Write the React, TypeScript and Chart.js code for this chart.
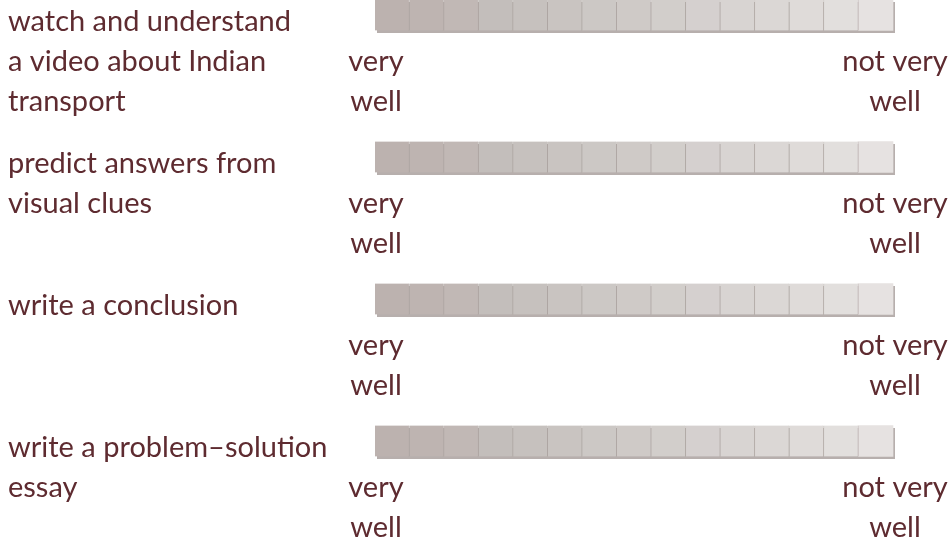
import React, { useEffect, useRef } from "react";
import { Chart, registerables } from "chart.js";

Chart.register(...registerables);

const skills: string[][] = [
  ["watch and understand", "a video about Indian", "transport"],
  ["predict answers from", "visual clues"],
  ["write a conclusion"],
  ["write a problem–solution", "essay"],
];
const categories = skills.map((s) => s.join(" "));
const levels = [1, 1, 1, 1, 1, 1, 1, 1, 1, 1, 1, 1, 1, 1, 1];
const leftEnd = ["very", "well"];
const rightEnd = ["not very", "well"];

const palette = [
  "#bcb2af", "#beb4b1", "#c1b8b5", "#c3bebb", "#c6c1be",
  "#c9c4c1", "#ccc8c5", "#cfcac7", "#d2cecb", "#d5d0cf",
  "#d8d4d2", "#dbd7d5", "#dfdbd9", "#e2dfdd", "#e6e2e1",
];
const TEXT = "#5e2b30";
const FONT = "29px Lato";

const textPlugin = {
  id: "scaleText",
  beforeDatasetsDraw(chart: any) {
    const { ctx, scales } = chart;
    const xs = scales.x;
    const ys = scales.y;
    const x0 = xs.getPixelForValue(0);
    const x1 = xs.getPixelForValue(levels.length);
    ctx.save();
    ctx.fillStyle = "#b7afad";
    categories.forEach((_, i) => {
      const yc = ys.getPixelForValue(i);
      ctx.fillRect(x0 + 2, yc - 15 + 2, x1 - x0, 31);
    });
    ctx.restore();
  },
  afterDraw(chart: any) {
    const { ctx, scales } = chart;
    const xs = scales.x;
    const ys = scales.y;
    const x0 = xs.getPixelForValue(0);
    const x1 = xs.getPixelForValue(levels.length);
    ctx.save();
    ctx.fillStyle = TEXT;
    ctx.font = FONT;
    ctx.textBaseline = "middle";
    skills.forEach((lines, i) => {
      const yc = ys.getPixelForValue(i);
      ctx.textAlign = "left";
      lines.forEach((l, j) => ctx.fillText(l, 8, yc + 7 + j * 40));
      ctx.textAlign = "center";
      leftEnd.forEach((l, j) => ctx.fillText(l, x0 + 1, yc + 47 + j * 40));
      rightEnd.forEach((l, j) => ctx.fillText(l, x1 + 2, yc + 47 + j * 40));
    });
    ctx.restore();
  },
};

export default function App() {
  const ref = useRef<HTMLCanvasElement>(null);
  useEffect(() => {
    if (!ref.current) return;
    const chart = new Chart(ref.current, {
      type: "bar",
      data: {
        labels: categories,
        datasets: levels.map((v, k) => ({
          label: "level " + (k + 1),
          data: categories.map(() => v),
          backgroundColor: palette[k],
          borderColor: "rgba(160,150,147,0.45)",
          borderWidth: { left: 0, top: 0, bottom: 0, right: k === levels.length - 1 ? 0 : 1 },
          borderSkipped: false,
          barThickness: 31,
          clip: false,
        })) as any,
      },
      options: {
        indexAxis: "y",
        animation: false,
        responsive: false,
        events: [],
        layout: { padding: { left: 375, right: 59, top: 15, bottom: 99 } },
        scales: {
          x: { type: "linear", stacked: true, min: 0, max: levels.length, display: false },
          y: { type: "category", stacked: true, offset: false, display: false },
        },
        plugins: { legend: { display: false }, tooltip: { enabled: false } },
      },
      plugins: [textPlugin],
    });
    return () => chart.destroy();
  }, []);
  return (
    <div style={{ position: "fixed", left: 0, top: 0, width: 952, height: 540, background: "#fff" }}>
      <canvas ref={ref} width={952} height={540} />
    </div>
  );
}
